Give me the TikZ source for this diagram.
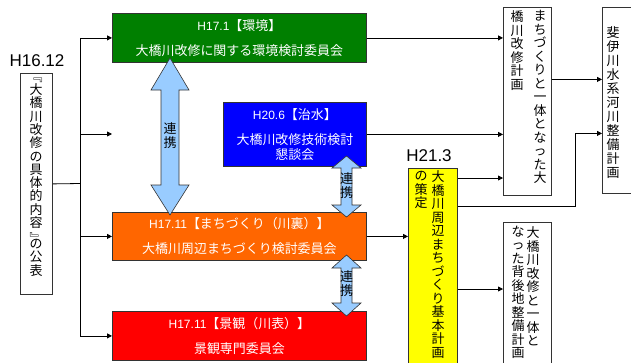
\documentclass[tikz,border=0pt]{standalone}
\usepackage{fontspec}
\setmainfont{Liberation Sans}
\newfontfamily\jp{Noto Sans CJK JP}[Scale=1.08]
\usetikzlibrary{arrows.meta}
\definecolor{cgreen}{HTML}{007F00}
\definecolor{cblue}{HTML}{0000FF}
\definecolor{corange}{HTML}{FF6600}
\definecolor{cred}{HTML}{FF0000}
\definecolor{cyellow}{HTML}{FFFF00}
\definecolor{clink}{HTML}{99CCFF}
\definecolor{cedge}{HTML}{333333}
\tikzset{
  box/.style={draw=cedge, line width=0.8pt, anchor=north west, inner sep=0pt},
  cbox/.style={box, text=white, align=center, font=\fontsize{12}{25}\selectfont},
  conn/.style={draw=black, line width=0.8pt, -{Triangle[length=5pt,width=5pt]}},
  wire/.style={draw=black, line width=0.8pt},
  vcol/.style={anchor=north, inner sep=0pt, align=center, font=\jp\fontsize{12}{13.5}\selectfont},
  brk/.style={inner sep=0pt, font=\jp\fontsize{12}{13.5}\selectfont},
  linkarrow/.style={draw=cedge, line width=0.6pt, fill=clink, line join=miter},
  datelbl/.style={font=\fontsize{17}{17}\selectfont, inner sep=0pt},
}
\newcommand\dblarrow[7]{%
  \path[linkarrow] (#1,#2) -- (#1+#6,#3) -- (#1+#7,#3) -- (#1+#7,#4) -- (#1+#6,#4)
    -- (#1,#5) -- (#1-#6,#4) -- (#1-#7,#4) -- (#1-#7,#3) -- (#1-#6,#3) -- cycle;}
\begin{document}
\begin{tikzpicture}[x=1pt,y=-1pt]
\useasboundingbox (0,0) rectangle (631,362);
\fill[white] (0,0) rectangle (631,362);

% left publication box
\node[datelbl] (d1) at (37,61) {H16.12};
\node[box, minimum width=32pt, minimum height=221pt] (pub) at (20,73) {};
\node[brk] (pubb1) at (36,80) {﹃};
\node[vcol, font=\jp\fontsize{12}{13.3}\selectfont] (pubt1) at (36,83.5) {大\\橋\\川\\改\\修\\の\\具\\体\\的\\内\\容};
\node[brk] (pubb2) at (36,238) {﹄};
\node[vcol] (pubt2) at (36,238.5) {の\\公\\表};

% coloured committee boxes
\node[cbox, fill=cgreen, minimum width=254pt, minimum height=49pt] (green) at (112,13)
  {H17.1{\jp【環境】}\\{\jp 大橋川改修に関する環境検討委員会}};
\node[cbox, fill=cblue, minimum width=143pt, minimum height=64pt, font=\fontsize{12}{15}\selectfont] (blue) at (223,102)
  {H20.6{\jp【治水】}\\[10pt]{\jp 大橋川改修技術検討}\\{\jp 懇談会}};
\node[cbox, fill=corange, minimum width=254pt, minimum height=48pt] (orange) at (112,212)
  {H17.11{\jp【まちづくり（川裏）】}\\{\jp 大橋川周辺まちづくり検討委員会}};
\node[cbox, fill=cred, minimum width=254pt, minimum height=49pt] (red) at (112,311)
  {H17.11{\jp【景観（川表）】}\\{\jp 景観専門委員会}};

% yellow plan box
\node[datelbl] (d2) at (429,156) {H21.3};
\node[box, fill=cyellow, minimum width=49pt, minimum height=200pt] (yellow) at (408,168) {};
\node[vcol] (yt1) at (438,170.5) {大\\橋\\川\\周\\辺\\ま\\ち\\づ\\く\\り\\基\\本\\計\\画};
\node[vcol] (yt2) at (421,171) {の\\策\\定};

% right boxes
\node[box, minimum width=48pt, minimum height=188pt] (plan) at (503,7) {};
\node[vcol] (pt1) at (540,10.5) {ま\\ち\\づ\\く\\り\\と\\一\\体\\と\\な\\っ\\た\\大};
\node[vcol] (pt2) at (517,10.5) {橋\\川\\改\\修\\計\\画};
\node[box, minimum width=50pt, minimum height=186pt] (river) at (602,7) {};
\node[vcol, font=\jp\fontsize{12}{14}\selectfont] (rt) at (613,26.5) {斐\\伊\\川\\水\\系\\河\\川\\整\\備\\計\\画};
\node[box, minimum width=48pt, minimum height=160pt] (back) at (503,222) {};
\node[vcol] (bt1) at (533,226.5) {大\\橋\\川\\改\\修\\と\\一\\体\\と};
\node[vcol] (bt2) at (518,225.5) {な\\っ\\た\\背\\後\\地\\整\\備\\計\\画};

% connectors from publication
\coordinate (bus) at (80,183.5);
\coordinate (free) at (112,134);
\draw[wire] (pub.east) -- (bus);
\draw[wire] (bus |- green.west) -- (bus |- red.west);
\draw[conn] (bus |- green.west) -- (green.west);
\draw[conn] (bus |- free) -- (free);
\draw[conn] (bus |- orange.west) -- (orange.west);
\draw[conn] (bus |- red.west) -- (red.west);

% connectors to the right
\draw[conn] (green.east) -- (green.east -| plan.west);
\draw[conn] (blue.east) -- (blue.east -| plan.west);
\draw[conn] (orange.east) -- (orange.east -| yellow.west);
\draw[conn] ([yshift=-10pt]yellow.north east) -- ([yshift=-10pt]yellow.north east -| plan.west);
\draw[conn] ([yshift=-38pt]yellow.north east) -| ([xshift=-27pt,yshift=-33pt]river.west) -- ([yshift=-33pt]river.west);
\draw[conn] ([yshift=22pt]plan.east) -- ([yshift=22pt]plan.east -| river.west);
\draw[conn] ([yshift=-121pt]yellow.north east) -- ([yshift=-121pt]yellow.north east -| back.west);

% cooperation arrows
\dblarrow{170}{58}{90}{185}{215}{19}{9}
\node[vcol] (l1) at (170,122.5) {連\\携};
\dblarrow{346.5}{156}{168}{205}{217}{14.5}{5.5}
\node[vcol] (l2) at (346.5,172.5) {連\\携};
\dblarrow{346.5}{255}{268}{303}{316}{14.5}{5.5}
\node[vcol] (l3) at (346.5,270.5) {連\\携};
\end{tikzpicture}
\end{document}
